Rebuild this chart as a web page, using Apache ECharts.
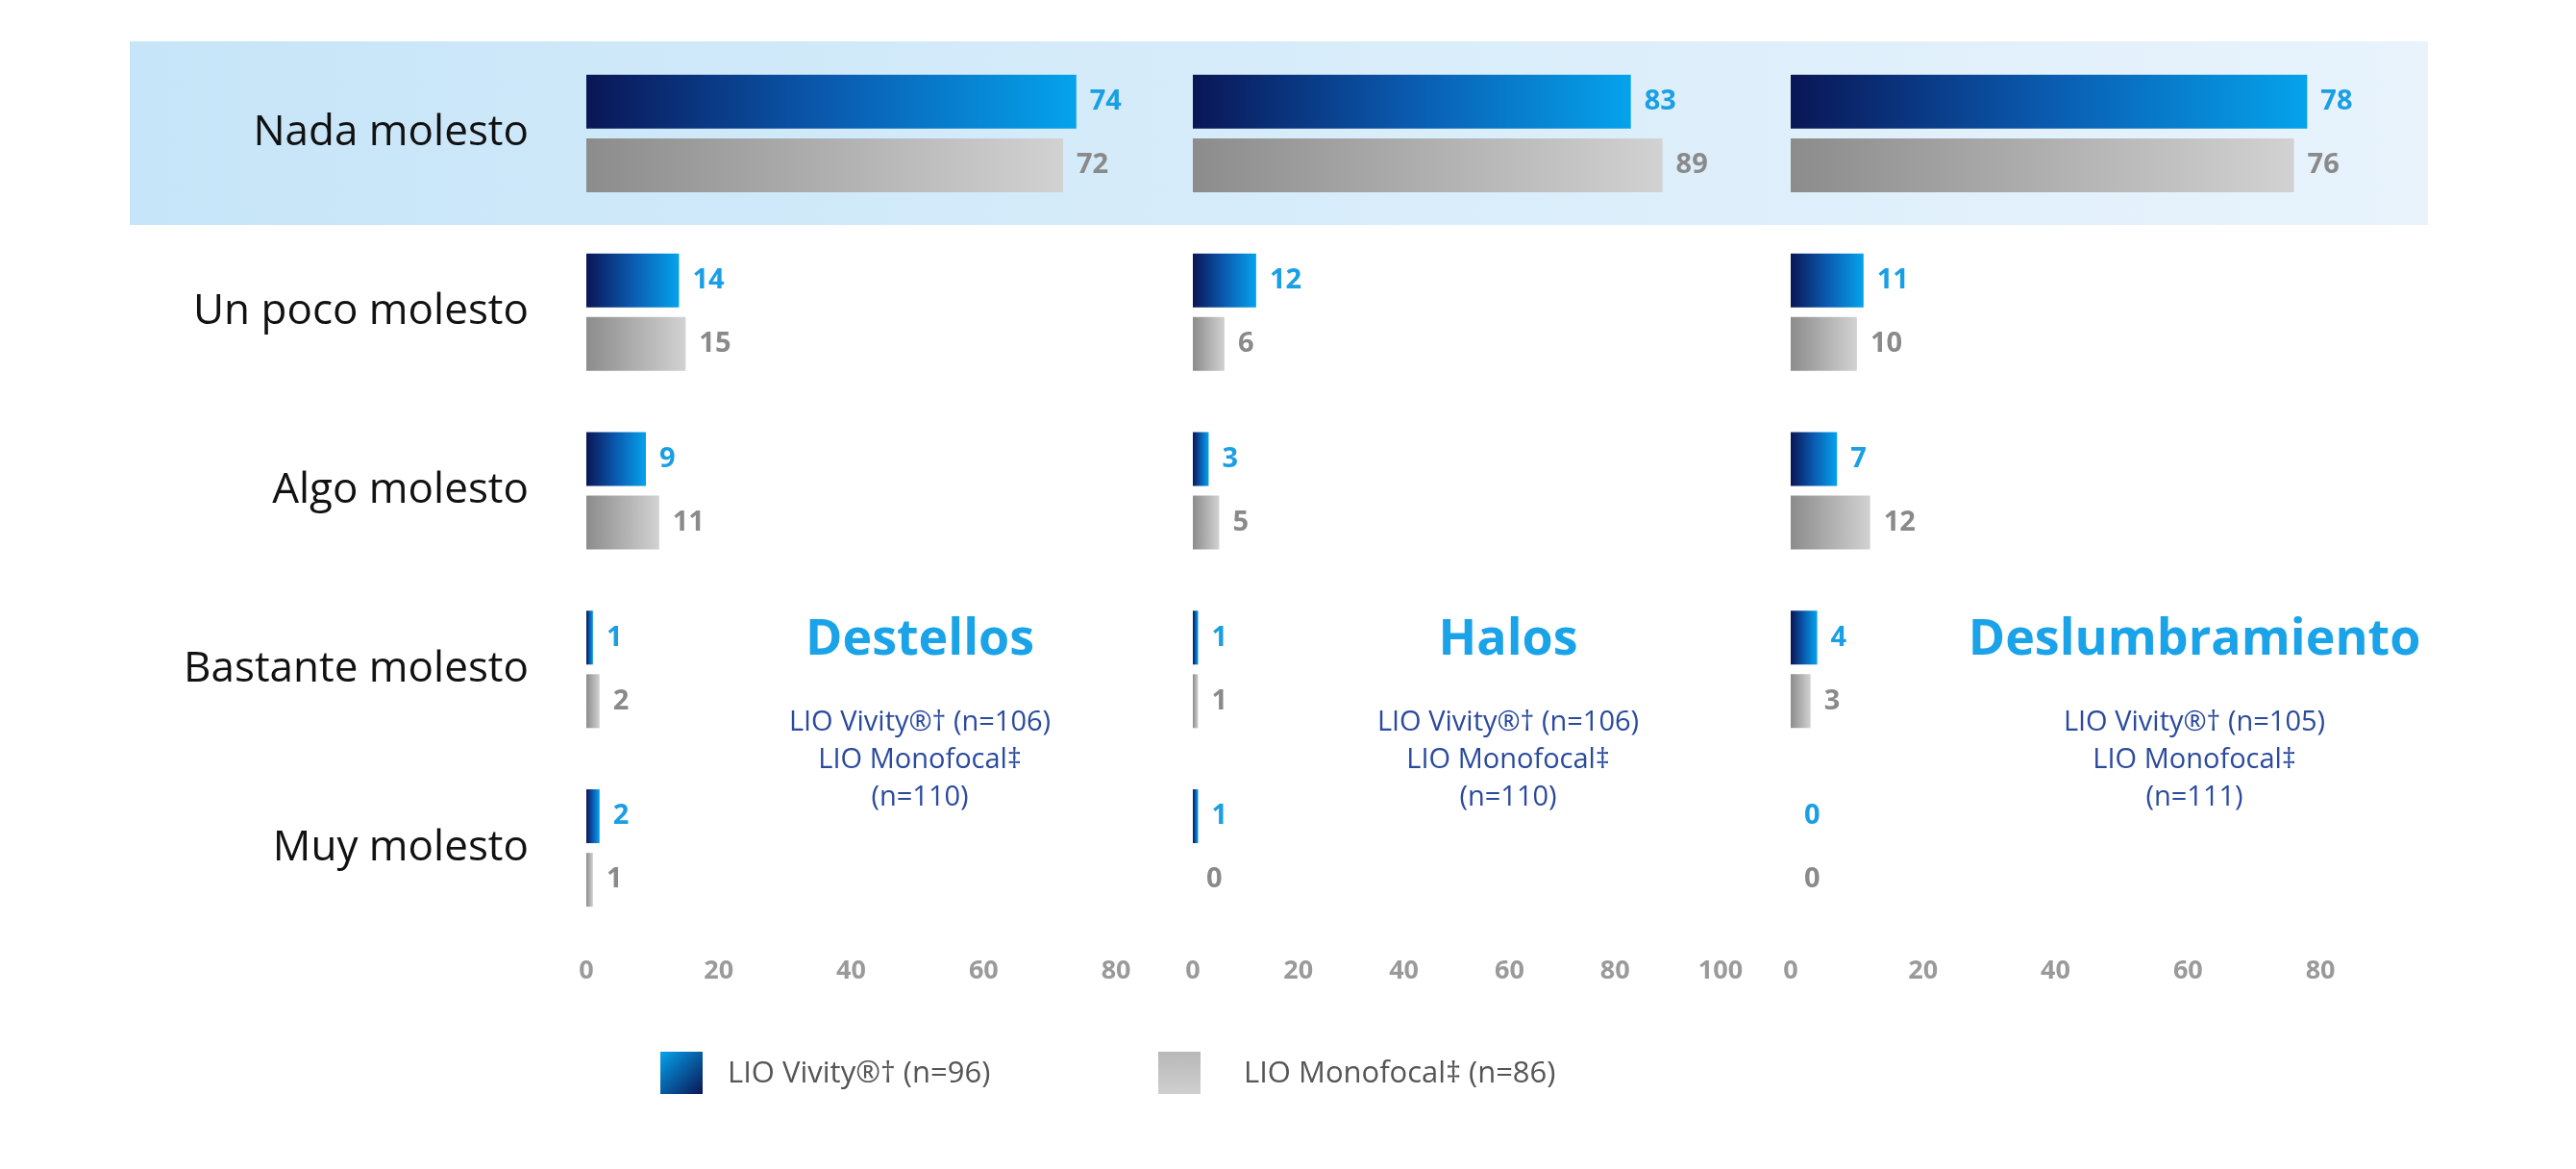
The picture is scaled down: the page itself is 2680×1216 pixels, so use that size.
<!DOCTYPE html>
<html><head><meta charset="utf-8">
<script src="https://cdn.jsdelivr.net/npm/echarts@6/dist/echarts.min.js"></script>
<style>html,body{margin:0;background:#fff}#c{width:2680px;height:1216px}</style>
</head><body><div id="c"></div>
<script>
const categories = ['Nada molesto','Un poco molesto','Algo molesto','Bastante molesto','Muy molesto'];
const destellosVivity = [74,14,9,1,2];
const destellosMono = [72,15,11,2,1];
const halosVivity = [83,12,3,1,1];
const halosMono = [89,6,5,1,0];
const deslumVivity = [78,11,7,4,0];
const deslumMono = [76,10,12,3,0];
const panelTitles = ['Destellos','Halos','Deslumbramiento'];
const panelSubs = [['LIO Vivity®† (n=106)','LIO Monofocal‡','(n=110)'],['LIO Vivity®† (n=106)','LIO Monofocal‡','(n=110)'],['LIO Vivity®† (n=105)','LIO Monofocal‡','(n=111)']];
const legendNames = ['LIO Vivity®† (n=96)','LIO Monofocal‡ (n=86)'];

const F='"Open Sans", "Noto Sans", sans-serif';
const blueGrad={type:'linear',x:0,y:0,x2:1,y2:0,colorStops:[{offset:0,color:'#0a1656'},{offset:0.5,color:'#0a5bb0'},{offset:1,color:'#05a3ec'}]};
const grayGrad={type:'linear',x:0,y:0,x2:1,y2:0,colorStops:[{offset:0,color:'#8c8c8c'},{offset:1,color:'#d2d2d2'}]};
const grayV={type:'linear',x:0,y:0,x2:0,y2:1,colorStops:[{offset:0,color:'#b8b8b8'},{offset:1,color:'#cfcfcf'}]};
const panels=[
 {left:610,width:620,max:90,v:destellosVivity,m:destellosMono,cx:957},
 {left:1241,width:549,max:100,v:halosVivity,m:halosMono,cx:1569},
 {left:1863,width:620,max:90,v:deslumVivity,m:deslumMono,cx:2283}];
const grid=[],xAxis=[],yAxis=[],series=[];
const graphic=[{type:'rect',z:-10,shape:{x:135,y:43,width:2391,height:191},style:{fill:{type:'linear',x:0,y:0,x2:1,y2:0,colorStops:[{offset:0,color:'#c6e5f8'},{offset:1,color:'#e8f3fc'}]}}}];
panels.forEach((p,i)=>{
 grid.push({left:p.left,width:p.width,top:46,height:929});
 xAxis.push({gridIndex:i,type:'value',min:0,max:p.max,interval:20,splitLine:{show:false},axisLine:{show:false},axisTick:{show:false},
  axisLabel:{color:'#9a9a9a',fontFamily:F,fontWeight:'bold',fontSize:27,margin:22,showMaxLabel:p.max===100,formatter:v=>v>(p.max===100?100:80)?'':v}});
 yAxis.push({gridIndex:i,type:'category',inverse:true,data:categories,axisLine:{show:false},axisTick:{show:false},
  axisLabel:{show:i===0,color:'#111',fontFamily:F,fontSize:44,margin:60}});
 const lab=(c)=>({show:true,position:'right',distance:14,color:c,fontFamily:F,fontWeight:'bold',fontSize:29});
 series.push({type:'bar',name:legendNames[0],xAxisIndex:i,yAxisIndex:i,data:p.v,barWidth:56,barGap:'18%',barCategoryGap:'34%',itemStyle:{color:blueGrad},label:lab('#1a9fe4')});
 series.push({type:'bar',name:legendNames[1],xAxisIndex:i,yAxisIndex:i,data:p.m,barWidth:56,itemStyle:{color:grayGrad},label:lab('#8a8a8a')});
 graphic.push({type:'text',style:{text:panelTitles[i],x:p.cx,y:666,align:'center',verticalAlign:'middle',fill:'#1aa3e8',font:'bold 52px '+F}});
 panelSubs[i].forEach((s,j)=>graphic.push({type:'text',style:{text:s,x:p.cx,y:752+j*39,align:'center',verticalAlign:'middle',fill:'#2a4a9e',font:'29px '+F}}));
});
graphic.push({type:'rect',shape:{x:687,y:1094,width:44,height:44},style:{fill:{type:'linear',x:0,y:0,x2:1,y2:1,colorStops:[{offset:0,color:'#05a3ec'},{offset:1,color:'#0a1656'}]}}});
graphic.push({type:'text',style:{text:legendNames[0],x:757,y:1117,verticalAlign:'middle',fill:'#555',font:'31px '+F}});
graphic.push({type:'rect',shape:{x:1205,y:1094,width:44,height:44},style:{fill:grayV}});
graphic.push({type:'text',style:{text:legendNames[1],x:1294,y:1117,verticalAlign:'middle',fill:'#555',font:'31px '+F}});
const chart=echarts.init(document.getElementById('c'));
chart.setOption({animation:false,grid,xAxis,yAxis,series,graphic});
</script></body></html>
